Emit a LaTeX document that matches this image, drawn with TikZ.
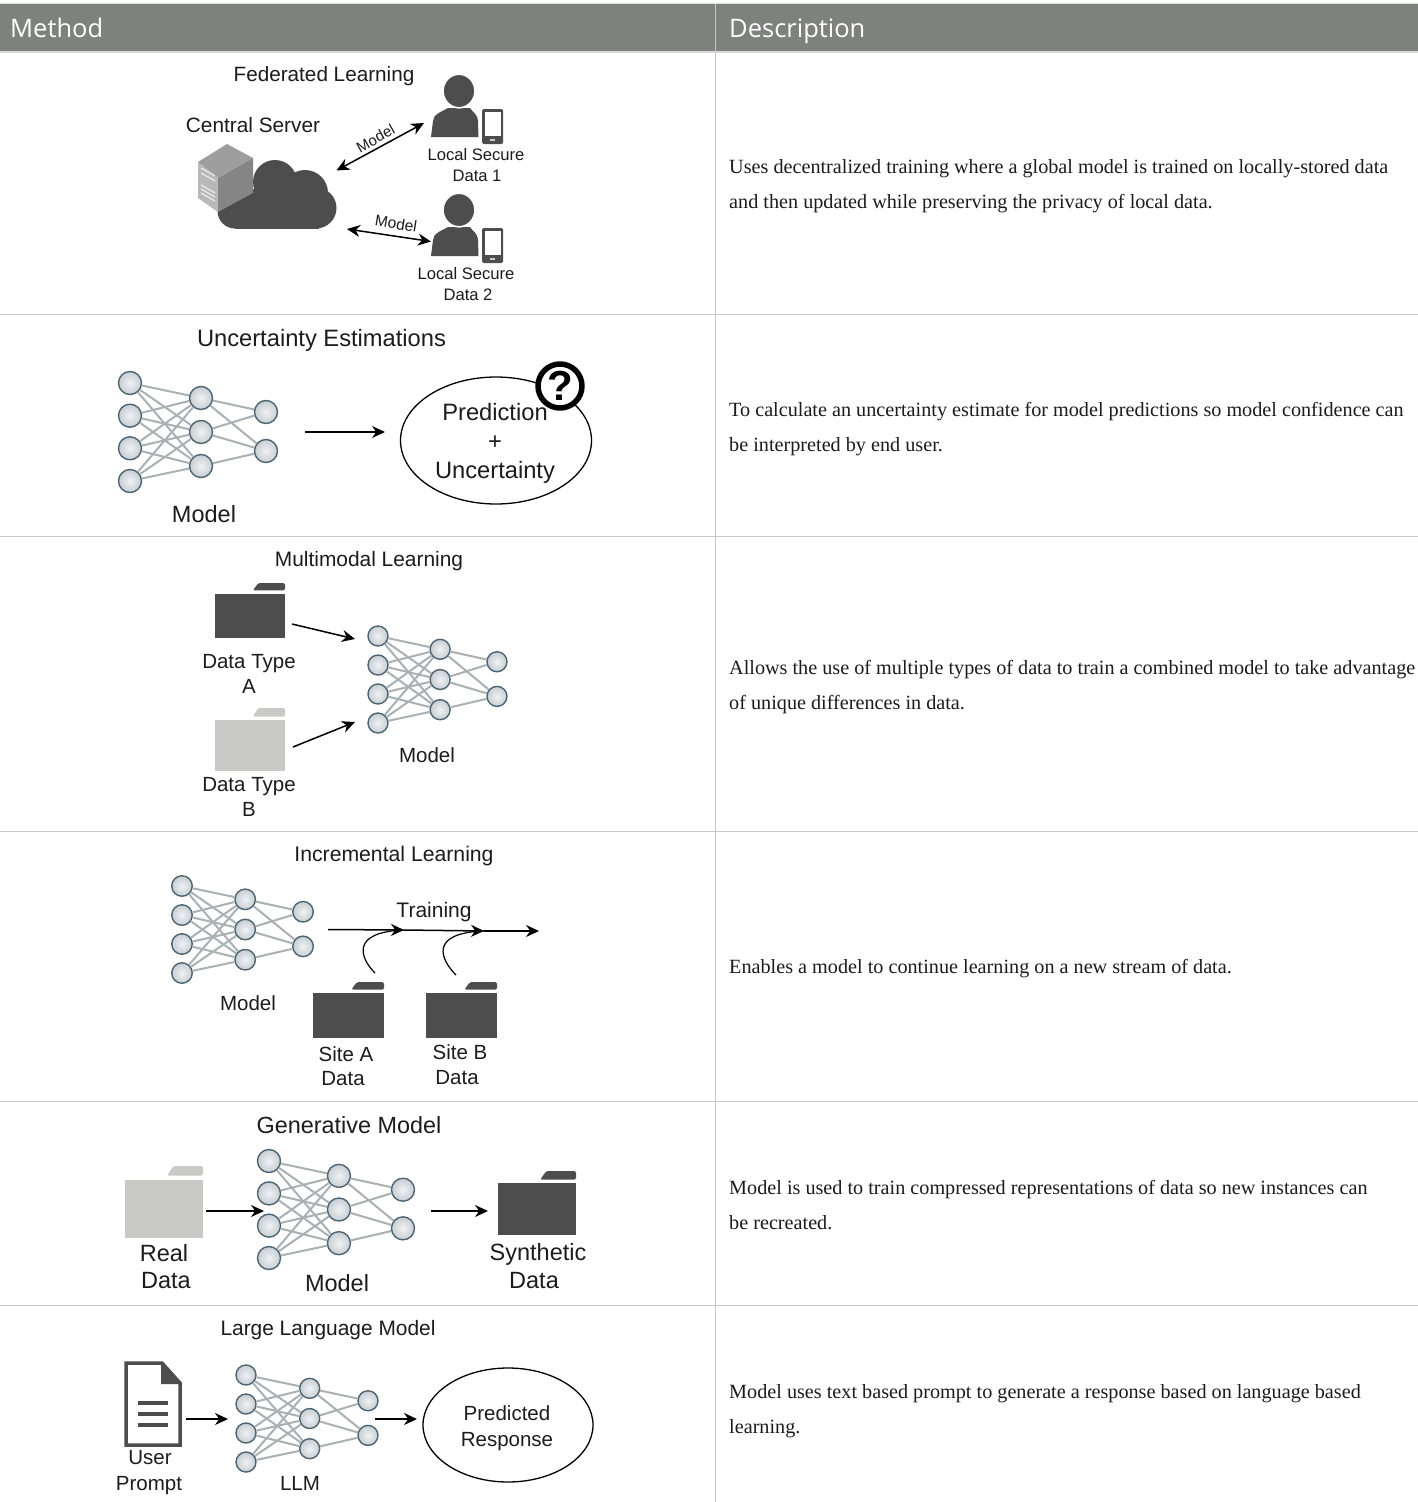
\documentclass[tikz,border=0pt]{standalone}
\usepackage{fontspec}
\setmainfont{Liberation Sans}
\newfontfamily\descfont{Liberation Serif}
\newfontfamily\headfont{Open Sans}
\usetikzlibrary{arrows.meta,shapes.geometric}
\definecolor{ink}{HTML}{4D4D4D}
\definecolor{lightfolder}{HTML}{C9C9C7}
\definecolor{headbar}{HTML}{7F817F}
\definecolor{rule}{HTML}{C8C8C8}
\definecolor{edgegray}{HTML}{A9B1B4}
\definecolor{ballrim}{HTML}{4F6472}
\definecolor{txt}{HTML}{1C1C1C}
\tikzset{
  lab/.style={inner sep=0pt,text=txt,align=center,font=\fontsize{#1}{#1}\selectfont},
  lab/.default=20.5,
  headtxt/.style={inner sep=0pt,anchor=base west,text=white,font=\headfont\fontsize{25.5}{30}\selectfont},
  desc/.style={inner sep=0pt,anchor=west,align=left,text=txt,font=\descfont\fontsize{20.2}{35}\selectfont},
  ball/.style={circle,draw=ballrim,line width=1.4pt,inner sep=0pt,minimum size=#1,inner color=white!92!ballrim,outer color=ballrim!32!white},
  netedge/.style={draw=edgegray,line width=2pt},
  arr/.style={draw=black,line width=1.5pt,-{Stealth[length=13pt,width=12pt]}},
  darr/.style={draw=black,line width=1.5pt,{Stealth[length=13pt,width=12pt]}-{Stealth[length=13pt,width=12pt]}},
  thinell/.style={ellipse,draw=black,line width=1.3pt,inner sep=0pt},
  rulel/.style={draw=rule,line width=1pt},
}
% name, x0, y0, xscale, yscale, node diameter
\newcommand{\netw}[6]{%
  \begin{scope}[shift={(#2,#3)},xscale=#4,yscale=#5]
    \node[ball=#6] (#1i1) at (0,0) {};
    \node[ball=#6] (#1i2) at (0,32.7) {};
    \node[ball=#6] (#1i3) at (0,65.3) {};
    \node[ball=#6] (#1i4) at (0,98) {};
    \node[ball=#6] (#1h1) at (71,15) {};
    \node[ball=#6] (#1h2) at (71,49) {};
    \node[ball=#6] (#1h3) at (71,83) {};
    \node[ball=#6] (#1o1) at (136,29) {};
    \node[ball=#6] (#1o2) at (136,68) {};
    \foreach \a in {1,2,3,4} \foreach \b in {1,2,3} \draw[netedge] (#1i\a) -- (#1h\b);
    \foreach \a/\b in {1/1,1/2,2/1,2/2,3/2} \draw[netedge] (#1h\a) -- (#1o\b);
  \end{scope}}
% name, x left, y top, width, height, colour
\newcommand{\folderi}[6]{%
  \begin{scope}[shift={(#2,#3)}]
    \fill[#6,rounded corners=1.5pt] ({.54*#4},{.135*#5}) -- ({.62*#4},0) -- (#4,0) -- (#4,{.135*#5}) -- cycle;
    \node[fill=#6,inner sep=0pt,anchor=north west,minimum width=#4 pt,minimum height={.81*#5 pt}] (#1) at (0,{.19*#5}) {};
  \end{scope}}
% name, head centre x, y
\newcommand{\persona}[3]{%
  \begin{scope}[shift={(#2,#3)}]
    \fill[ink] (-28,46) -- (-26,30) .. controls (-25,23) and (-20,22) .. (-11,17) -- (11,17) .. controls (14,22) and (18,22) .. (19,30) -- (19.5,46) -- cycle;
    \node[circle,fill=ink,draw=white,line width=1.6pt,inner sep=0pt,minimum size=32pt,yscale=1.05] (#1) at (0,0) {};
    \fill[ink,rounded corners=1.5pt] (23,18) rectangle (44,53);
    \fill[white] (25.5,20.5) rectangle (41.5,45);
    \fill[white!70!ink] (31,47.8) rectangle (36,49.5);
  \end{scope}}

\begin{document}
\begin{tikzpicture}[x=1pt,y=-1pt,line join=round]
\useasboundingbox (0,0) rectangle (1418,1502);
\fill[white] (0,0) rectangle (1418,1502);
% table
\fill[rule!60!white] (0,2.5) rectangle (1418,5);
\fill[headbar] (0,4) rectangle (1418,51);
\draw[rule!70!white,line width=1.2pt] (0,52) -- (1418,52);
\coordinate (colt) at (715,4);
\coordinate (colb) at (715,1502);
\draw[rulel] (colt) -- (colb);
\foreach \yy/\nn in {314/a,536/b,831/c,1101/d,1305/e}{
  \coordinate (l\nn) at (0,\yy);
  \coordinate (r\nn) at (1418,\yy);
  \draw[rulel] (l\nn) -- (r\nn);
}
\node[headtxt] (hm) at (10,37) {Method};
\node[headtxt] (hd) at (729,37) {Description};
% descriptions
\node[desc] (d1) at (729,186.5) {Uses decentralized training where a global model is trained on locally-stored data\\and then updated while preserving the privacy of local data.};
\node[desc] (d2) at (729,429) {To calculate an uncertainty estimate for model predictions so model confidence can\\be interpreted by end user.};
\node[desc] (d3) at (729,687.5) {Allows the use of multiple types of data to train a combined model to take advantage\\of unique differences in data.};
\node[desc] (d4) at (729,969) {Enables a model to continue learning on a new stream of data.};
\node[desc] (d5) at (729,1205.5) {Model is used to train compressed representations of data so new instances can\\be recreated.};
\node[desc] (d6) at (729,1411.5) {Model uses text based prompt to generate a response based on language based\\learning.};

% ---------- Federated learning
\node[lab=20.7] (t1) at (324,76) {Federated Learning};
\node[lab=20.8] (cs) at (253,125) {Central Server};
% cloud
\fill[ink] (275,182) circle (22);
\fill[ink] (305,193) circle (23);
\fill[ink] (316,208) circle (20.5);
\fill[ink] (235,211) circle (17.5);
\node[fill=ink,inner sep=0pt,anchor=north west,minimum width=84pt,minimum height=40pt] (cloud) at (235,188.5) {};
% server
\fill[white!62!black] (198,162) -- (227,144) -- (253,158) -- (218,178) -- cycle;
\fill[white!72!black] (198,162) -- (218,178) -- (218,212) -- (198,198) -- cycle;
\fill[white!52!black] (218,178) -- (253,158) -- (253,193) -- (218,212) -- cycle;
\foreach \q in {168,173,185,189,193}{\draw[white!92!black,line width=1.2pt] (201,\q) -- (215,{\q+8});}
\persona{p1}{459}{91}
\persona{p2}{459}{210}
\node[lab=16.6] (ls1) at (476,155) {Local Secure};
\node[lab=16.6] (ds1) at (477,176) {Data 1};
\node[lab=16.6] (ls2) at (466,274) {Local Secure};
\node[lab=16.6] (ds2) at (468,295) {Data 2};
\coordinate (f1a) at (336.5,170.5);
\coordinate (f1b) at (424,123);
\coordinate (f2a) at (347,229);
\coordinate (f2b) at (431,241.5);
\draw[darr] (f1a) -- (f1b);
\draw[darr] (f2a) -- (f2b);
\node[lab=15,rotate=29] (fm1) at (375.5,138.5) {Model};
\node[lab=15.5,rotate=-9] (fm2) at (396,223.5) {Model};

% ---------- Uncertainty
\node[lab=23.7] (t2) at (321.5,340) {Uncertainty Estimations};
\netw{u}{130}{383}{1}{1}{23pt}
\node[lab=23.5] (um) at (204,514) {Model};
\node[thinell,minimum width=191pt,minimum height=127pt] (pe) at (496,440.5) {};
\node[lab=23.7] (p1t) at (495,412.5) {Prediction};
\node[lab=23.7] (p2t) at (495,443) {+};
\node[lab=23.7] (p3t) at (495,472) {Uncertainty};
\node[circle,draw=black,fill=white,line width=5.5pt,inner sep=0pt,minimum size=44pt,text=black,font=\bfseries\fontsize{42}{42}\selectfont] (qm) at (560,386) {?};
\coordinate (ua) at (305,432);
\coordinate (ub) at (385,432);
\draw[arr] (ua) -- (ub);

% ---------- Multimodal
\node[lab=20.9] (t3) at (369,561.5) {Multimodal Learning};
\folderi{fa}{215}{583}{70}{55}{ink}
\folderi{fb}{215}{708}{70}{63}{lightfolder}
\node[lab] (fat) at (249,664) {Data Type};
\node[lab] (fat2) at (249,686) {A};
\node[lab] (fbt) at (249,787) {Data Type};
\node[lab] (fbt2) at (249,809) {B};
\netw{m}{378}{636}{.875}{.888}{20pt}
\node[lab] (mm) at (427,755) {Model};
\coordinate (maa) at (292,624);
\coordinate (mab) at (355,639);
\coordinate (mba) at (293,747);
\coordinate (mbb) at (355,722);
\draw[arr] (maa) -- (mab);
\draw[arr] (mba) -- (mbb);

% ---------- Incremental
\node[lab=21.2] (t4) at (394,856) {Incremental Learning};
\netw{i}{182}{886}{.89}{.888}{20.5pt}
\node[lab] (im) at (248,1003) {Model};
\node[lab=21] (itr) at (434,912) {Training};
\coordinate (ta) at (328,929.5);
\coordinate (tb) at (404,930);
\coordinate (tc) at (484,931);
\coordinate (td) at (539,931);
\draw[arr] (ta) -- (tb);
\draw[arr] (tb) -- (tc);
\draw[arr] (tc) -- (td);
\coordinate (ca) at (375,973);
\coordinate (cb) at (456,975);
\draw[draw=black,line width=1.2pt] (ca) .. controls (360,958) and (350,932) .. (tb);
\draw[draw=black,line width=1.2pt] (cb) .. controls (441,960) and (428,933) .. (tc);
\folderi{fc}{313}{982}{71}{56}{ink}
\folderi{fd}{426}{982}{71}{56}{ink}
\node[lab] (sa) at (346,1054) {Site A};
\node[lab] (sad) at (343,1079) {Data};
\node[lab] (sb) at (460,1052) {Site B};
\node[lab] (sbd) at (457,1078) {Data};

% ---------- Generative
\node[lab=23.4] (t5) at (349,1125) {Generative Model};
\folderi{fe}{125}{1166}{78}{72}{lightfolder}
\folderi{ff}{498}{1171}{78}{64}{ink}
\netw{g}{269}{1161}{.985}{.99}{23pt}
\node[lab=23.5] (ge1) at (164,1253) {Real};
\node[lab=23.5] (ge2) at (166,1281) {Data};
\node[lab=23.5] (gm) at (337,1283) {Model};
\node[lab=23.5] (gs1) at (538,1254) {Synthetic};
\node[lab=23.5] (gs2) at (534,1281) {Data};
\coordinate (gaa) at (206,1211);
\coordinate (gab) at (264,1211);
\coordinate (gba) at (431,1211);
\coordinate (gbb) at (488,1211);
\draw[arr] (gaa) -- (gab);
\draw[arr] (gba) -- (gbb);

% ---------- LLM
\node[lab=20.9] (t6) at (328,1330) {Large Language Model};
\draw[ink,line width=3.5pt,fill=white,line join=miter] (126,1363) -- (162,1363) -- (180,1383) -- (180,1445) -- (126,1445) -- cycle;
\fill[ink] (161,1361) -- (182,1384) -- (161,1384) -- cycle;
\foreach \q in {1403,1414,1425}{\fill[ink] (138,\q-2) rectangle (168,\q+2);}
\node[lab] (lu) at (150,1458) {User};
\node[lab] (lp) at (149,1486) {Prompt};
\netw{l}{246}{1375}{.897}{.888}{20pt}
\node[lab] (ll) at (300,1483) {LLM};
\node[thinell,minimum width=170pt,minimum height=114pt] (le) at (508,1425) {};
\node[lab] (lr1) at (507,1413) {Predicted};
\node[lab] (lr2) at (507,1442) {Response};
\coordinate (laa) at (186,1419);
\coordinate (lab) at (228,1419);
\coordinate (lba) at (375,1419);
\coordinate (lbb) at (417,1419);
\draw[arr] (laa) -- (lab);
\draw[arr] (lba) -- (lbb);
\end{tikzpicture}
\end{document}
